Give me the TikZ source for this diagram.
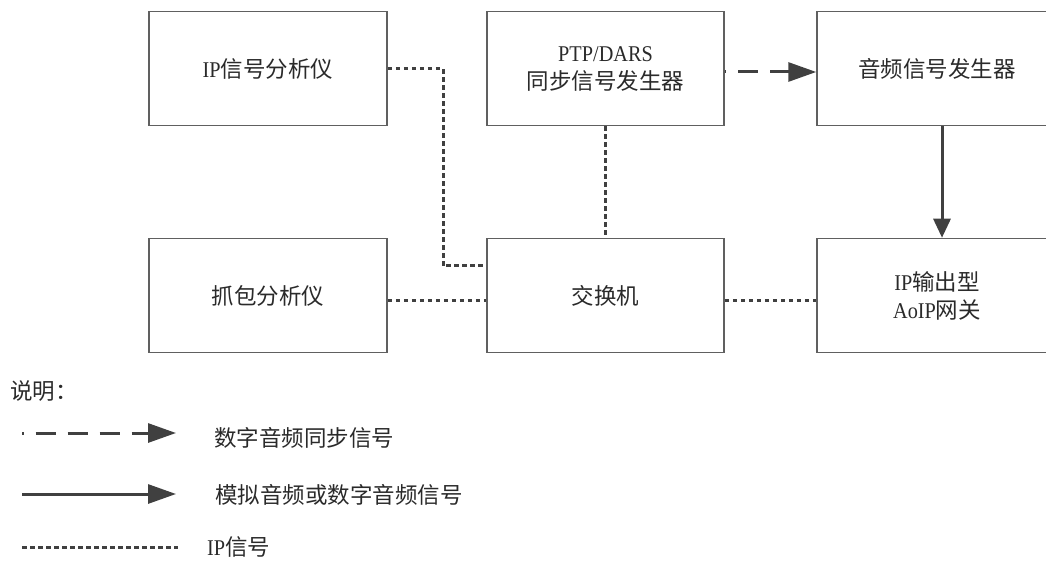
\documentclass[tikz,border=0pt]{standalone}
\usepackage{fontspec}
\setmainfont{Noto Sans CJK SC}
\newfontfamily\latf{Liberation Serif}[Scale=1.0, FakeStretch=0.9]
\usetikzlibrary{arrows.meta}
\definecolor{boxc}{HTML}{606060}
\definecolor{linec}{HTML}{404040}
\definecolor{txtc}{HTML}{2A2A2A}
\tikzset{
  box/.style={draw=boxc, line width=1.5pt, minimum width=238pt, minimum height=114pt,
    inner sep=0pt, align=center, text=txtc, font=\fontsize{22.5}{28}\selectfont},
  lbl/.style={inner sep=0pt, anchor=west, text=txtc, font=\fontsize{22.5}{28}\selectfont},
  ipline/.style={draw=linec, line width=3pt, dash pattern=on 4.5pt off 3.5pt},
  syncline/.style={draw=linec, line width=3pt, dash pattern=on 20pt off 12pt, dash phase=18.5pt,
    -{Triangle[length=28pt,width=19pt]}},
  audline/.style={draw=linec, line width=3pt, -{Triangle[length=28pt,width=19pt]}},
}
\begin{document}
\begin{tikzpicture}[x=1pt,y=-1pt]
\useasboundingbox (0,0) rectangle (1046,561);
\begin{scope}
\clip (0,0) rectangle (1046,561);
\node[box] (b1) at (268,68.5) {{\latf IP}信号分析仪};
\node[box, minimum width=237pt] (b2) at (605.5,68.5) {{\latf PTP/DARS}\\同步信号发生器};
\node[box, minimum width=240pt] (b3) at (937,68.5) {音频信号发生器};
\node[box] (b4) at (268,295.5) {抓包分析仪};
\node[box, minimum width=237pt] (b5) at (605.5,295.5) {交换机};
\node[box, minimum width=240pt] (b6) at (937,295.5) {{\latf IP}输出型\\{\latf AoIP}网关};
\end{scope}
\coordinate (j1) at (443,266);
\draw[ipline] (b1.east) -| (j1) -- (j1 -| b5.west);
\draw[ipline] (b2.south) -- (b5.north);
\draw[ipline] ([yshift=-4.5pt]b4.east) -- ([yshift=-4.5pt]b5.west);
\draw[ipline] ([yshift=-4.5pt]b5.east) -- ([yshift=-4.5pt]b6.west);
\draw[syncline] ([yshift=-3.5pt]b2.east) -- ([yshift=-3.5pt]b3.west);
\draw[draw=linec, line width=3pt, -{Triangle[length=19pt,width=17pt]}] ([xshift=5pt]b3.south) -- ([xshift=5pt]b6.north);
% legend
\node[lbl] (sm) at (10,391) {说明：};
\coordinate (l1a) at (22,433);
\coordinate (l1b) at (176,433);
\draw[syncline] (l1a) -- (l1b);
\node[lbl] (t1) at (214,438) {数字音频同步信号};
\coordinate (l2a) at (22,494);
\coordinate (l2b) at (176,494);
\draw[audline] (l2a) -- (l2b);
\node[lbl] (t2) at (215,495) {模拟音频或数字音频信号};
\coordinate (l3a) at (22,547);
\coordinate (l3b) at (178,547);
\draw[ipline] (l3a) -- (l3b);
\node[lbl] (t3) at (207,547) {{\latf IP}信号};
\end{tikzpicture}
\end{document}
